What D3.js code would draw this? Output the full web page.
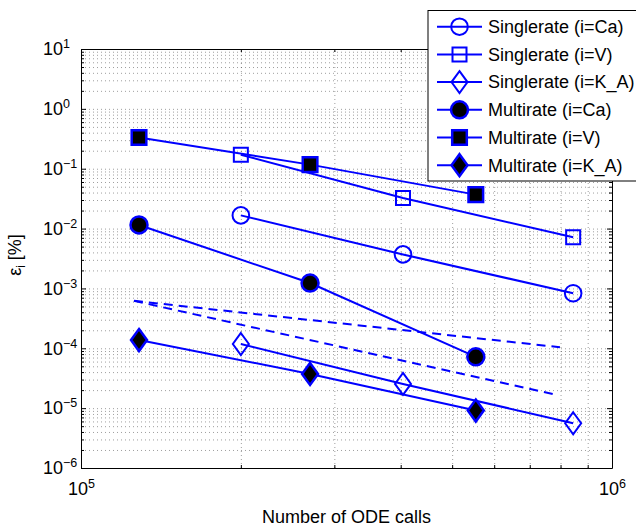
<!DOCTYPE html>
<html>
<head>
<meta charset="utf-8">
<script src="https://cdn.jsdelivr.net/npm/d3@7"></script>
<style>
  body { margin: 0; background: white; }
  svg { display: block; }
</style>
</head>
<body>
<div id="chart"></div>
<script>
// Number of ODE calls for each method
const xSingle = [2.0e5, 4.04e5, 8.45e5];
const xMulti = [1.286e5, 2.70e5, 5.54e5];

// Relative error eps_i [%]
const singleCa = [1.66e-2, 3.7e-3, 8.3e-4];
const singleV = [0.171, 0.0325, 0.00716];
const singleKA = [1.18e-4, 2.54e-5, 5.6e-6];
const multiCa = [0.0115, 1.23e-3, 7.2e-5];
const multiV = [0.332, 0.117, 0.0369];
const multiKA = [1.37e-4, 3.73e-5, 9.1e-6];

// dashed reference slopes (order 1 and order 2)
const refOrder1X = [1.258e5, 7.98e5];
const refOrder1Y = [6.2e-4, 1.04e-4];
const refOrder2X = [1.258e5, 7.81e5];
const refOrder2Y = [6.2e-4, 1.69e-5];

const legendLabels = [
  "Singlerate (i=Ca)", "Singlerate (i=V)", "Singlerate (i=K_A)",
  "Multirate (i=Ca)", "Multirate (i=V)", "Multirate (i=K_A)"
];

const xTicks = [1e5, 1e6];
const yTicks = [1e-6, 1e-5, 1e-4, 1e-3, 1e-2, 1e-1, 1e0, 1e1];

const width = 636;
const height = 529;
const margin = { top: 49, right: 24, bottom: 61, left: 81 };
const blue = "#0000ff";
const font = "'Liberation Sans', Arial, Helvetica, sans-serif";

const series = [
  { label: legendLabels[0], xs: xSingle, ys: singleCa, marker: "circle", filled: false },
  { label: legendLabels[1], xs: xSingle, ys: singleV, marker: "square", filled: false },
  { label: legendLabels[2], xs: xSingle, ys: singleKA, marker: "diamond", filled: false },
  { label: legendLabels[3], xs: xMulti, ys: multiCa, marker: "circle", filled: true },
  { label: legendLabels[4], xs: xMulti, ys: multiV, marker: "square", filled: true },
  { label: legendLabels[5], xs: xMulti, ys: multiKA, marker: "diamond", filled: true }
];

const svg = d3.select("#chart").append("svg")
  .attr("width", width)
  .attr("height", height)
  .style("background", "white")
  .style("font-family", font);

const x = d3.scaleLog()
  .domain([1e5, 1e6])
  .range([margin.left, width - margin.right]);

const y = d3.scaleLog()
  .domain([1e-6, 1e1])
  .range([height - margin.bottom, margin.top]);

// minor tick positions 2..9 in each decade
const xMinor = [];
for (let m = 2; m <= 9; m++) xMinor.push(m * 1e5);
const yMinor = [];
for (let k = -6; k <= 0; k++) {
  for (let m = 2; m <= 9; m++) yMinor.push(m * Math.pow(10, k));
}

const plotW = width - margin.left - margin.right;
const plotH = height - margin.top - margin.bottom;

// dotted grid
const gridX = svg.append("g")
  .attr("transform", `translate(0,${height - margin.bottom})`)
  .call(d3.axisBottom(x).tickValues(xMinor.concat(xTicks)).tickSize(-plotH).tickFormat(""));
const gridY = svg.append("g")
  .attr("transform", `translate(${margin.left},0)`)
  .call(d3.axisLeft(y).tickValues(yMinor.concat(yTicks)).tickSize(-plotW).tickFormat(""));
[gridX, gridY].forEach(g => {
  g.select(".domain").remove();
  g.selectAll("line")
    .attr("stroke", "#333")
    .attr("stroke-width", 0.8)
    .attr("stroke-dasharray", "1,3")
    .attr("opacity", 0.6);
});

// marker shapes
function markerPath(type, filled) {
  if (type === "circle") {
    const r = filled ? 8.5 : 8.3;
    return d3.symbol().type(d3.symbolCircle).size(Math.PI * r * r)();
  }
  if (type === "square") {
    const h = filled ? 7.3 : 7;
    return `M${-h},${-h}H${h}V${h}H${-h}Z`;
  }
  const w = 8, hh = 11;
  return `M0,${-hh}L${w},0L0,${hh}L${-w},0Z`;
}

function drawMarker(g, s, px, py) {
  g.append("path")
    .attr("transform", `translate(${px},${py})`)
    .attr("d", markerPath(s.marker, s.filled))
    .attr("fill", s.filled ? "#000" : "none")
    .attr("stroke", blue)
    .attr("stroke-width", s.filled ? 2.5 : 2);
}

const line = d3.line()
  .x(d => x(d[0]))
  .y(d => y(d[1]));

// reference dashed lines
[[refOrder1X, refOrder1Y], [refOrder2X, refOrder2Y]].forEach(([rx, ry]) => {
  svg.append("path")
    .datum(rx.map((v, i) => [v, ry[i]]))
    .attr("d", line)
    .attr("fill", "none")
    .attr("stroke", blue)
    .attr("stroke-width", 2)
    .attr("stroke-dasharray", "9,6");
});

// series
series.forEach(s => {
  const pts = s.xs.map((v, i) => [v, s.ys[i]]);
  const g = svg.append("g");
  g.append("path")
    .datum(pts)
    .attr("d", line)
    .attr("fill", "none")
    .attr("stroke", blue)
    .attr("stroke-width", 2);
  pts.forEach(p => drawMarker(g, s, x(p[0]), y(p[1])));
});

// axes: inward ticks on all four sides
function styleAxis(g) {
  g.selectAll("line").attr("stroke", "#000");
  g.select(".domain").attr("stroke", "#000");
}

function supLabel(sel) {
  sel.each(function(d) {
    const t = d3.select(this);
    const e = Math.round(Math.log10(d));
    t.text(null);
    t.append("tspan").text("10");
    t.append("tspan")
      .attr("dy", -7)
      .attr("font-size", 12.5)
      .text(e < 0 ? "\u2212" + (-e) : String(e));
  });
}

const axisBottomG = svg.append("g")
  .attr("transform", `translate(0,${height - margin.bottom})`)
  .call(d3.axisBottom(x).tickValues(xTicks).tickSizeInner(-5).tickSizeOuter(0).tickPadding(14));
axisBottomG.attr("font-family", font).attr("font-size", 18);
axisBottomG.selectAll(".tick text").attr("fill", "#000").call(supLabel);
styleAxis(axisBottomG);

const axisBottomMinor = svg.append("g")
  .attr("transform", `translate(0,${height - margin.bottom})`)
  .call(d3.axisBottom(x).tickValues(xMinor).tickSizeInner(-3).tickSizeOuter(0).tickFormat(""));
axisBottomMinor.select(".domain").remove();
styleAxis(axisBottomMinor);

const axisTopG = svg.append("g")
  .attr("transform", `translate(0,${margin.top})`)
  .call(d3.axisTop(x).tickValues(xTicks).tickSizeInner(-5).tickSizeOuter(0).tickFormat(""));
styleAxis(axisTopG);
const axisTopMinor = svg.append("g")
  .attr("transform", `translate(0,${margin.top})`)
  .call(d3.axisTop(x).tickValues(xMinor).tickSizeInner(-3).tickSizeOuter(0).tickFormat(""));
axisTopMinor.select(".domain").remove();
styleAxis(axisTopMinor);

const axisLeftG = svg.append("g")
  .attr("transform", `translate(${margin.left},0)`)
  .call(d3.axisLeft(y).tickValues(yTicks).tickSizeInner(-5).tickSizeOuter(0));
axisLeftG.attr("font-family", font).attr("font-size", 18);
axisLeftG.selectAll(".tick text")
  .attr("fill", "#000")
  .attr("text-anchor", "start")
  .attr("x", 43 - margin.left)
  .call(supLabel);
styleAxis(axisLeftG);
const axisLeftMinor = svg.append("g")
  .attr("transform", `translate(${margin.left},0)`)
  .call(d3.axisLeft(y).tickValues(yMinor).tickSizeInner(-3).tickSizeOuter(0).tickFormat(""));
axisLeftMinor.select(".domain").remove();
styleAxis(axisLeftMinor);

const axisRightG = svg.append("g")
  .attr("transform", `translate(${width - margin.right},0)`)
  .call(d3.axisRight(y).tickValues(yTicks).tickSizeInner(-5).tickSizeOuter(0).tickFormat(""));
styleAxis(axisRightG);
const axisRightMinor = svg.append("g")
  .attr("transform", `translate(${width - margin.right},0)`)
  .call(d3.axisRight(y).tickValues(yMinor).tickSizeInner(-3).tickSizeOuter(0).tickFormat(""));
axisRightMinor.select(".domain").remove();
styleAxis(axisRightMinor);

// axis titles
svg.append("text")
  .attr("x", margin.left + plotW / 2)
  .attr("y", 523)
  .attr("text-anchor", "middle")
  .style("font-size", "18px")
  .attr("fill", "#000")
  .text("Number of ODE calls");

const yTitle = svg.append("text")
  .attr("transform", "translate(21,255) rotate(-90)")
  .attr("text-anchor", "middle")
  .style("font-size", "18px")
  .attr("fill", "#000");
yTitle.append("tspan").text("\u03b5");
yTitle.append("tspan").attr("dy", 4).style("font-size", "12px").text("i");
yTitle.append("tspan").attr("dy", -4).text(" [%]");

// legend
const legX = 428, legY = 10.5, legRow = 27.7;
const legend = svg.append("g");
legend.append("rect")
  .attr("x", legX)
  .attr("y", legY)
  .attr("width", 230)
  .attr("height", 170.5)
  .attr("fill", "white")
  .attr("stroke", "#000")
  .attr("stroke-width", 1);

series.forEach((s, i) => {
  const cy = legY + 16.2 + i * legRow;
  legend.append("line")
    .attr("x1", legX + 9)
    .attr("x2", legX + 54)
    .attr("y1", cy)
    .attr("y2", cy)
    .attr("stroke", blue)
    .attr("stroke-width", 2);
  drawMarker(legend, s, legX + 31.5, cy);
  legend.append("text")
    .attr("x", legX + 60)
    .attr("y", cy)
    .attr("dy", "0.35em")
    .style("font-size", "18px")
    .attr("fill", "#000")
    .text(s.label);
});
</script>
</body>
</html>
